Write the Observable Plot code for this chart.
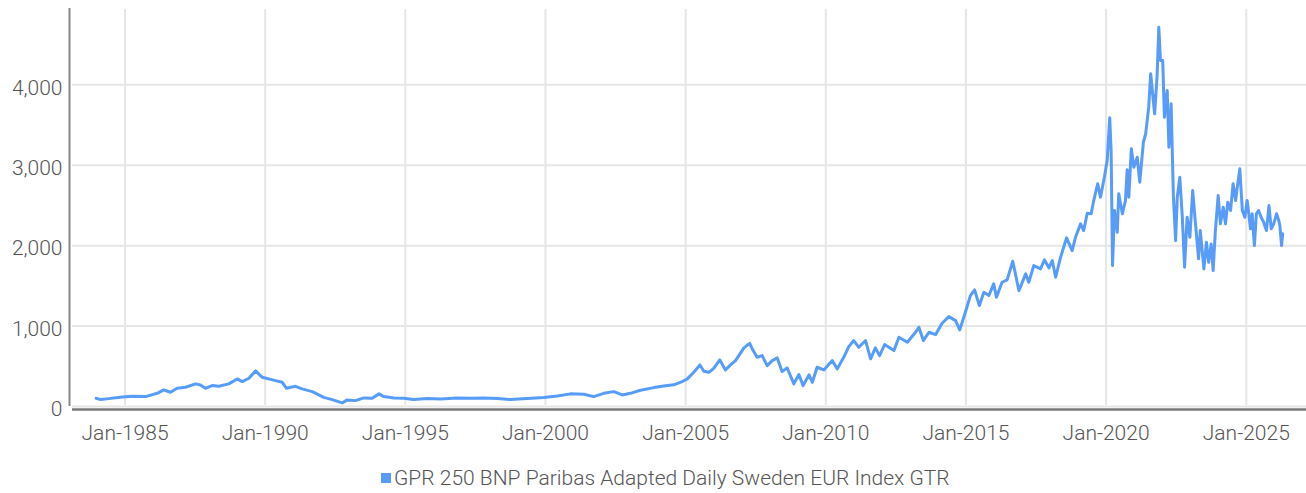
<!DOCTYPE html>
<html>
<head>
<meta charset="utf-8">
<script src="https://cdn.jsdelivr.net/npm/d3@7"></script>
<script src="https://cdn.jsdelivr.net/npm/@observablehq/plot@0.6"></script>
<style>
  html, body { margin: 0; padding: 0; background: #fff; }
  body { width: 1306px; height: 493px; position: relative; overflow: hidden; font-family: Roboto, "Noto Sans", sans-serif; }
  #chart { position: absolute; left: 0; top: 0; }
  #legend { position: absolute; left: 381px; top: 466px; display: flex; align-items: center; font-size: 21px; font-weight: 300; color: #555; white-space: nowrap; }
  #legend .sw { width: 10px; height: 10px; background: #569cf8; margin-right: 3px; }
</style>
</head>
<body>
<div id="chart"></div>
<div id="legend"><span class="sw"></span><span id="legendLabel"></span></div>
<script>
const seriesName = "GPR 250 BNP Paribas Adapted Daily Sweden EUR Index GTR";

// decimal years of the observations
const years = [
  1983.97, 1984.13, 1984.42, 1984.90, 1985.26, 1985.73, 1986.15, 1986.38, 1986.62, 1986.86,
  1987.16, 1987.52, 1987.69, 1987.87, 1988.11, 1988.35, 1988.70, 1989.00, 1989.18, 1989.42,
  1989.66, 1989.89, 1990.37, 1990.61, 1990.76, 1991.08, 1991.32, 1991.68, 1992.09, 1992.39,
  1992.75, 1992.93, 1993.22, 1993.52, 1993.82, 1994.06, 1994.23, 1994.59, 1994.95, 1995.30,
  1995.78, 1996.26, 1996.85, 1997.33, 1997.80, 1998.28, 1998.75, 1999.35, 1999.94, 2000.42,
  2000.89, 2001.37, 2001.72, 2002.08, 2002.44, 2002.74, 2003.03, 2003.39, 2003.87, 2004.22,
  2004.58, 2004.85, 2005.06, 2005.29, 2005.51, 2005.65, 2005.83, 2006.00, 2006.22, 2006.42,
  2006.60, 2006.78, 2007.08, 2007.28, 2007.38, 2007.55, 2007.73, 2007.91, 2008.09, 2008.27,
  2008.44, 2008.62, 2008.86, 2009.04, 2009.19, 2009.40, 2009.52, 2009.69, 2009.93, 2010.23,
  2010.41, 2010.64, 2010.82, 2011.00, 2011.18, 2011.42, 2011.60, 2011.77, 2011.92, 2012.10,
  2012.43, 2012.61, 2012.91, 2013.20, 2013.32, 2013.48, 2013.68, 2013.92, 2014.15, 2014.39,
  2014.63, 2014.78, 2014.98, 2015.16, 2015.31, 2015.48, 2015.64, 2015.82, 2015.99, 2016.09,
  2016.29, 2016.47, 2016.67, 2016.89, 2017.13, 2017.24, 2017.42, 2017.66, 2017.80, 2017.96,
  2018.08, 2018.20, 2018.37, 2018.59, 2018.79, 2018.91, 2019.09, 2019.20, 2019.33, 2019.47,
  2019.56, 2019.70, 2019.80, 2019.94, 2020.04, 2020.13, 2020.18, 2020.23, 2020.30, 2020.40,
  2020.45, 2020.58, 2020.69, 2020.75, 2020.81, 2020.90, 2020.99, 2021.11, 2021.20, 2021.33,
  2021.41, 2021.52, 2021.59, 2021.73, 2021.82, 2021.88, 2021.94, 2022.02, 2022.08, 2022.18,
  2022.24, 2022.32, 2022.40, 2022.48, 2022.54, 2022.63, 2022.72, 2022.80, 2022.89, 2022.99,
  2023.09, 2023.19, 2023.30, 2023.36, 2023.49, 2023.58, 2023.66, 2023.75, 2023.82, 2023.90,
  2024.00, 2024.08, 2024.18, 2024.26, 2024.34, 2024.44, 2024.53, 2024.62, 2024.68, 2024.77,
  2024.86, 2024.95, 2025.03, 2025.09, 2025.15, 2025.21, 2025.29, 2025.36, 2025.44, 2025.53,
  2025.62, 2025.72, 2025.81, 2025.89, 2025.98, 2026.08, 2026.16, 2026.20, 2026.26, 2026.30
];

// index values
const values = [
  102, 86, 98, 119, 127, 123, 164, 206, 177, 227,
  239, 281, 268, 227, 260, 251, 281, 343, 310, 351,
  443, 363, 322, 301, 226, 251, 219, 185, 114, 86,
  45, 82, 73, 107, 102, 157, 123, 107, 102, 86,
  98, 94, 107, 102, 107, 98, 86, 98, 111, 131,
  157, 152, 123, 164, 185, 144, 164, 202, 235, 256,
  269, 305, 343, 425, 517, 438, 425, 475, 580, 455,
  517, 571, 729, 786, 716, 612, 633, 509, 571, 604,
  434, 480, 281, 397, 260, 393, 301, 488, 455, 571,
  468, 612, 745, 820, 736, 820, 592, 729, 633, 770,
  695, 861, 799, 923, 985, 820, 923, 894, 1035, 1118,
  1068, 953, 1172, 1379, 1450, 1255, 1420, 1380, 1525, 1360,
  1545, 1575, 1806, 1441, 1649, 1545, 1752, 1711, 1823, 1724,
  1815, 1607, 1848, 2097, 1939, 2105, 2271, 2188, 2403, 2396,
  2561, 2769, 2602, 2851, 3059, 3590, 3183, 1752, 2437, 2167,
  2644, 2396, 2561, 2943, 2602, 3204, 2975, 3100, 2789, 3286,
  3390, 3722, 4137, 3639, 4116, 4716, 4302, 4302, 3597, 3929,
  3224, 3764, 2623, 2063, 2602, 2851, 2353, 1731, 2353, 2105,
  2685, 2271, 1836, 2188, 1711, 2042, 1794, 2022, 1690, 2188,
  2623, 2271, 2478, 2271, 2540, 2437, 2769, 2561, 2727, 2955,
  2437, 2353, 2561, 2396, 2209, 2396, 2001, 2396, 2437, 2353,
  2291, 2188, 2499, 2209, 2271, 2396, 2312, 2250, 2001, 2147
];

const yTicks = [0, 1000, 2000, 3000, 4000];
const xTickYears = [1985, 1990, 1995, 2000, 2005, 2010, 2015, 2020, 2025];
const xDomainYears = [1983.02, 2027.15];
const yDomain = [0, 4949];

function yearToDate(y) {
  const yr = Math.floor(y);
  const a = Date.UTC(yr, 0, 1), b = Date.UTC(yr + 1, 0, 1);
  return new Date(a + (y - yr) * (b - a));
}

const data = years.map((y, i) => ({date: yearToDate(y), value: values[i]}));
const xTicks = xTickYears.map(y => new Date(Date.UTC(y, 0, 1)));
const xDomain = xDomainYears.map(yearToDate);

const lineColor = "#569cf8";
const gridColor = "#e6e6e6";

const chart = Plot.plot({
  width: 1306,
  height: 455,
  marginLeft: 69,
  marginRight: 0,
  marginTop: 8,
  marginBottom: 49,
  style: {fontFamily: "Roboto, 'Noto Sans', sans-serif", fontSize: "21px", fontWeight: 300, color: "#555", background: "#fff"},
  x: {type: "utc", domain: xDomain},
  y: {domain: yDomain},
  marks: [
    Plot.ruleY(yTicks, {stroke: gridColor, strokeWidth: 2, insetLeft: 3}),
    Plot.ruleX(xTicks, {stroke: gridColor, strokeWidth: 2, insetTop: 1, insetBottom: 1}),
    Plot.ruleX([xDomain[0]], {stroke: "#888", strokeWidth: 2}),
    Plot.ruleY([0], {stroke: "#777", strokeWidth: 2.5, dy: 3, insetLeft: 3}),
    Plot.axisY({ticks: yTicks, tickFormat: d3.format(","), tickSize: 0, tickPadding: 7, dy: 3, fill: "#555", fontSize: 21, fontWeight: 300, label: null}),
    Plot.axisX({ticks: xTicks, tickFormat: d3.utcFormat("%b-%Y"), tickSize: 0, tickPadding: 19, fill: "#555", fontSize: 21, fontWeight: 300, label: null}),
    Plot.line(data, {x: "date", y: "value", stroke: lineColor, strokeWidth: 3, strokeLinejoin: "round", strokeLinecap: "round"})
  ]
});
document.getElementById("chart").appendChild(chart);
document.getElementById("legendLabel").textContent = seriesName;
</script>
</body>
</html>
